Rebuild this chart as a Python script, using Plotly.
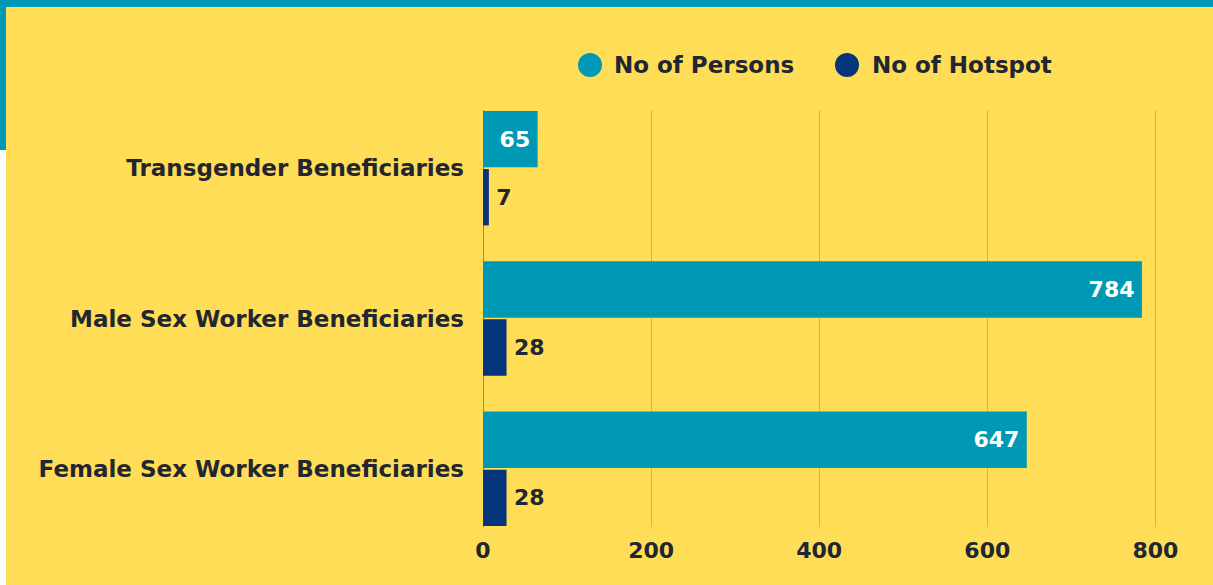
import plotly.graph_objects as go

categories = ["Transgender Beneficiaries", "Male Sex Worker Beneficiaries", "Female Sex Worker Beneficiaries"]
persons = [65, 784, 647]
hotspots = [7, 28, 28]
series_names = ["No of Persons", "No of Hotspot"]
tick_vals = [0, 200, 400, 600, 800]

TEAL = "#0099b5"
NAVY = "#05357a"
YELLOW = "#ffdd57"
DARK = "#222630"
FONT = "DejaVu Sans"

W, H = 1213, 585
L, R, T, B = 483, 24, 110, 58
pw = W - L - R
ph = H - T - B

def px_x(x):
    return (x - L) / pw

def px_y(y):
    return (H - B - y) / ph

fig = go.Figure()
fig.add_trace(go.Bar(
    y=categories, x=persons, orientation="h", name=series_names[0],
    marker=dict(color=TEAL, line=dict(width=0)),
    texttemplate="%{x}\u2009", textposition="inside", insidetextanchor="end",
    textfont=dict(color="white", size=22, family=FONT, weight=700),
    showlegend=False, cliponaxis=False, hoverinfo="x+y",
))
fig.add_trace(go.Bar(
    y=categories, x=hotspots, orientation="h", name=series_names[1],
    marker=dict(color=NAVY, line=dict(width=0)),
    texttemplate="\u2009%{x}", textposition="outside",
    textfont=dict(color=DARK, size=22, family=FONT, weight=700),
    showlegend=False, cliponaxis=False, hoverinfo="x+y",
))

shapes = [
    dict(type="rect", xref="paper", yref="paper", x0=px_x(0), x1=px_x(W), y0=px_y(7), y1=px_y(0),
         fillcolor=TEAL, line=dict(width=0), layer="below"),
    dict(type="rect", xref="paper", yref="paper", x0=px_x(0), x1=px_x(6), y0=px_y(150), y1=px_y(0),
         fillcolor=TEAL, line=dict(width=0), layer="below"),
    dict(type="rect", xref="paper", yref="paper", x0=px_x(0), x1=px_x(6), y0=px_y(H), y1=px_y(150),
         fillcolor="white", line=dict(width=0), layer="below"),
]
annotations = []
legend_pos = [(590, 612), (847, 870)]
for nm, col, (cx, tx) in zip(series_names, [TEAL, NAVY], legend_pos):
    shapes.append(dict(type="circle", xref="paper", yref="paper",
                       x0=px_x(cx - 12), x1=px_x(cx + 12), y0=px_y(77), y1=px_y(53),
                       fillcolor=col, line=dict(width=0)))
    annotations.append(dict(xref="paper", yref="paper", x=px_x(tx), y=px_y(65),
                            xanchor="left", yanchor="middle", text=nm, showarrow=False,
                            font=dict(size=23, family=FONT, color=DARK, weight=700)))

fig.update_layout(
    width=W, height=H,
    margin=dict(l=L, r=R, t=T, b=B, pad=0),
    paper_bgcolor=YELLOW, plot_bgcolor=YELLOW,
    barmode="group", bargap=0.227, bargroupgap=0.03,
    font=dict(family=FONT, color=DARK, size=22),
    shapes=shapes, annotations=annotations,
    showlegend=False,
    xaxis=dict(range=[0, 840], tickvals=tick_vals, showgrid=True,
               gridcolor="rgba(150,130,80,0.45)", gridwidth=1,
               zeroline=True, zerolinecolor="#9b8a55", zerolinewidth=1,
               showline=False, ticks="", ticklabelstandoff=8,
               tickfont=dict(size=22, family=FONT, color=DARK, weight=700)),
    yaxis=dict(range=[2.387, -0.387], showgrid=False, zeroline=False, showline=False,
               ticks="", ticklabelstandoff=18,
               tickfont=dict(size=23, family=FONT, color=DARK, weight=700)),
)

fig.write_html("out.html", post_script="document.body.style.margin='0';",
               config={"displayModeBar": False})
